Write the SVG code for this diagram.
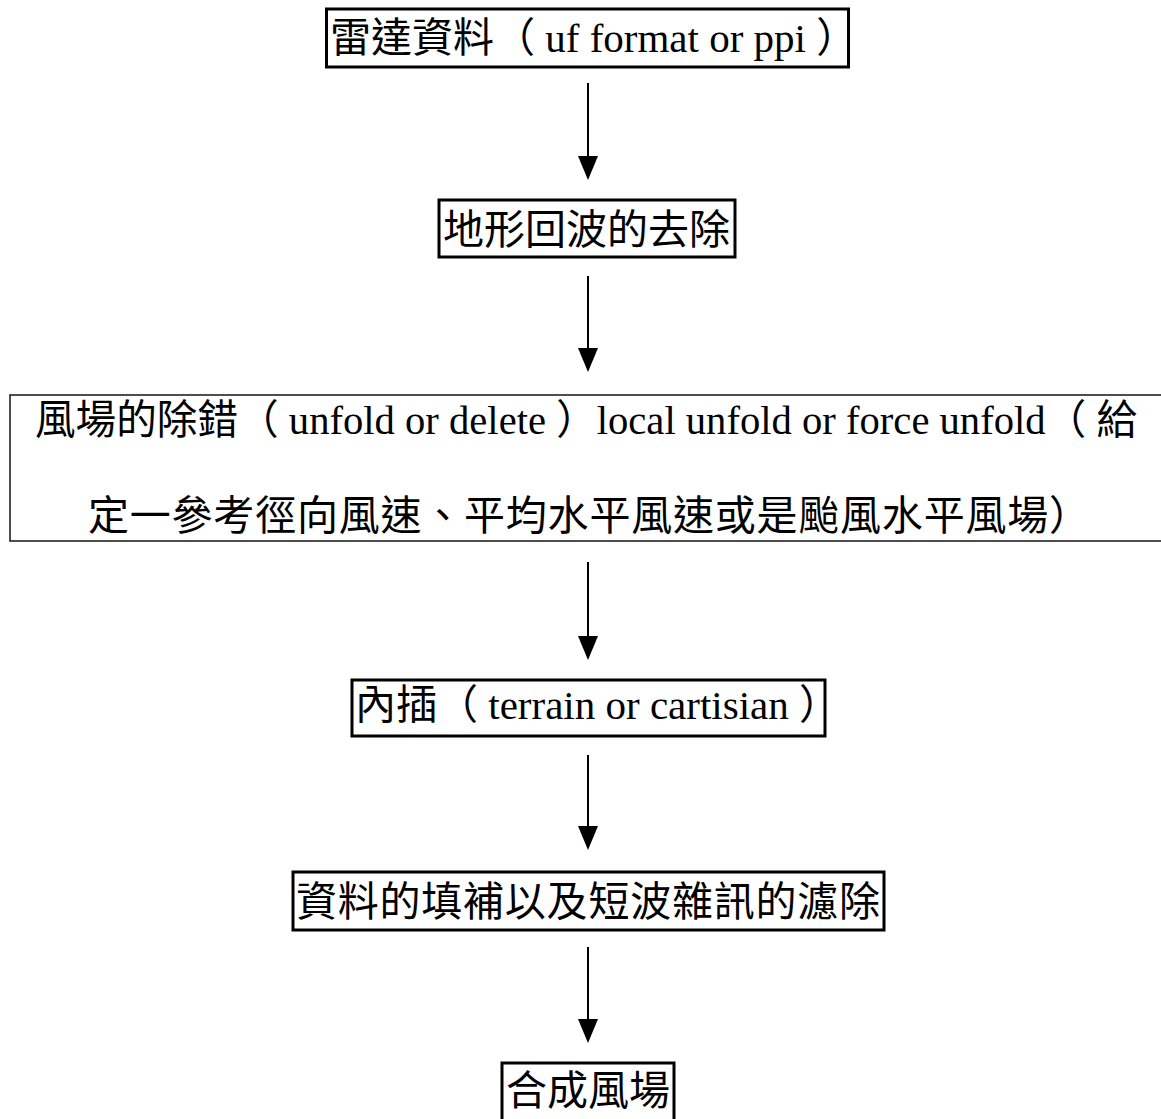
<svg xmlns="http://www.w3.org/2000/svg" width="1161" height="1119" viewBox="0 0 1161 1119">
<style>
.box{fill:#fff;stroke:#000;stroke-width:3}
.thin{fill:#fff;stroke:#222;stroke-width:1.6}
.t{font-family:"Noto Sans CJK TC","Noto Sans CJK SC",sans-serif;font-size:41px;fill:#000}
.l{font-family:"Liberation Serif","Times New Roman",serif}
.conn line{stroke:#000;stroke-width:2}
</style>
<defs>
<marker id="ah" markerUnits="userSpaceOnUse" markerWidth="24" markerHeight="20" refX="12" refY="10" orient="auto" viewBox="0 0 24 20">
<path d="M0,0 L24,10 L0,20 z" fill="#000"/>
</marker>
</defs>
<rect width="1161" height="1119" fill="#fff"/>
<g id="connectors" class="conn">
<line x1="588" y1="83" x2="588" y2="168" marker-end="url(#ah)"/>
<line x1="588" y1="276" x2="588" y2="360" marker-end="url(#ah)"/>
<line x1="588" y1="562" x2="588" y2="648" marker-end="url(#ah)"/>
<line x1="588" y1="755" x2="588" y2="838" marker-end="url(#ah)"/>
<line x1="588" y1="947" x2="588" y2="1031" marker-end="url(#ah)"/>
</g>
<g id="node1">
<rect class="box" x="326.5" y="9" width="522" height="58"/>
<text class="t" x="330" y="52" font-size="40">雷達資料（<tspan class="l" font-size="41"> uf format or ppi </tspan>）</text>
</g>
<g id="node2">
<rect class="box" x="439" y="200" width="296" height="57"/>
<text class="t" x="443" y="244">地形回波的去除</text>
</g>
<g id="node3">
<rect class="thin" x="10" y="395" width="1160" height="146"/>
<text class="t" x="35" y="434" font-size="39" textLength="1102" lengthAdjust="spacingAndGlyphs">風場的除錯（<tspan class="l"> unfold or delete </tspan>）<tspan class="l">local unfold or force unfold</tspan>（<tspan class="l"> </tspan>給</text>
<text class="t" x="88" y="530" font-size="38" textLength="1002">定一參考徑向風速、平均水平風速或是颱風水平風場）</text>
</g>
<g id="node4">
<rect class="box" x="352" y="680" width="473" height="56"/>
<text class="t" x="355" y="719" font-size="40">內插（<tspan class="l"> terrain or cartisian </tspan>）</text>
</g>
<g id="node5">
<rect class="box" x="293" y="872" width="591" height="58"/>
<text class="t" x="296" y="916" textLength="584">資料的填補以及短波雜訊的濾除</text>
</g>
<g id="node6">
<rect class="box" x="502" y="1063" width="172" height="80"/>
<text class="t" x="506" y="1105" textLength="164">合成風場</text>
</g>
</svg>
